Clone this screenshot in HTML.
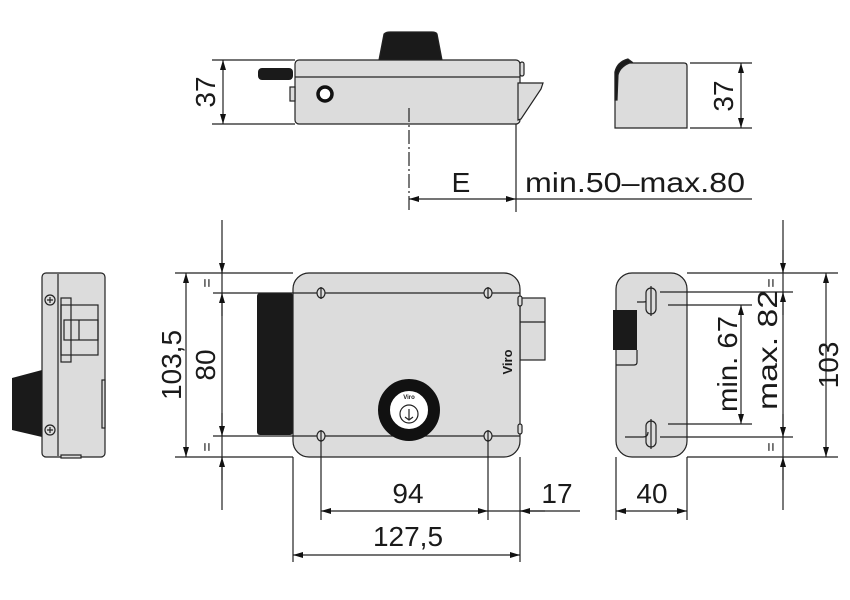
<!DOCTYPE html>
<html><head><meta charset="utf-8"><style>
html,body{margin:0;padding:0;background:#fff;}
svg{display:block;}
text{font-family:"Liberation Sans",sans-serif;fill:#1a1a1a;}
</style></head><body>
<svg width="850" height="600" viewBox="0 0 850 600" xmlns="http://www.w3.org/2000/svg">
<defs>
<marker id="a" viewBox="0 0 10 6" refX="10" refY="3" markerWidth="14" markerHeight="6" markerUnits="userSpaceOnUse" orient="auto-start-reverse"><path d="M0,0 L10,3 L0,6 z" fill="#111"/></marker>
</defs>
<g stroke="#222" stroke-width="1.2" fill="none">

<!-- TOP VIEW -->
<path d="M379,60 L384,34 Q386,32 390,32 L432,32 Q436,32 437,34 L442,60 Z" fill="#1a1a1a"/>
<rect x="258" y="68" width="35" height="12" rx="4" fill="#1a1a1a" stroke="none"/>
<rect x="295" y="60" width="225" height="64" rx="4" fill="#dcdcdc"/>
<line x1="295" y1="77" x2="520" y2="77"/>
<rect x="290" y="87" width="5" height="14" fill="#dcdcdc"/>
<rect x="520" y="62" width="4" height="14" rx="2" fill="#dcdcdc"/>
<path d="M518,83 L543,83 L541,89 L521,119 L518,120 Z" fill="#dcdcdc"/>
<circle cx="325" cy="94" r="7" stroke="#111" stroke-width="3.5" fill="#fff"/>
<line x1="212" y1="60" x2="295" y2="60"/>
<line x1="212" y1="124" x2="295" y2="124"/>
<line x1="223" y1="60" x2="223" y2="124" marker-start="url(#a)" marker-end="url(#a)"/>
<line x1="409" y1="108" x2="409" y2="212" stroke-dasharray="14,3,2,3"/>
<line x1="516" y1="124" x2="516" y2="212"/>
<line x1="409" y1="199" x2="516" y2="199" marker-start="url(#a)" marker-end="url(#a)"/>
<line x1="516" y1="199" x2="752" y2="199"/>

<!-- TOP RIGHT VIEW -->
<path d="M615,128 L615,72 Q618,63 628,63 L684,63 Q687,63 687,66 L687,128 Z" fill="#dcdcdc"/>
<path d="M615,100 L615,72 Q617,62 628,59 L632,62 Q620,66 618,75 L617,100 Z" fill="#1a1a1a"/>
<line x1="690" y1="63" x2="752" y2="63"/>
<line x1="690" y1="128" x2="752" y2="128"/>
<line x1="741" y1="63" x2="741" y2="128" marker-start="url(#a)" marker-end="url(#a)"/>

<!-- LEFT SIDE VIEW -->
<path d="M12,378 L42,370 L42,437 L12,430 Z" fill="#1a1a1a" stroke="none"/>
<rect x="42" y="273" width="63" height="184" rx="4" fill="#dcdcdc"/>
<line x1="58" y1="274" x2="58" y2="456"/>
<rect x="61" y="298" width="10" height="64" fill="#dcdcdc"/>
<rect x="61" y="305" width="37" height="50"/>
<rect x="64" y="320" width="34" height="20"/>
<line x1="79" y1="320" x2="79" y2="340"/>
<rect x="102" y="380" width="3" height="48" fill="#dcdcdc"/>
<rect x="61" y="455" width="20" height="3" fill="#dcdcdc"/>
<circle cx="50" cy="300" r="5" fill="#dcdcdc"/><path d="M47,300 h6 M50,297 v6"/>
<circle cx="50" cy="430" r="5" fill="#dcdcdc"/><path d="M47,430 h6 M50,427 v6"/>

<!-- FRONT VIEW -->
<rect x="257" y="293" width="36" height="142" rx="3" fill="#1a1a1a" stroke="none"/>
<rect x="520" y="298" width="25" height="62" fill="#dcdcdc"/>
<line x1="520" y1="322" x2="545" y2="322"/>
<rect x="293" y="273" width="227" height="184" rx="16" fill="#dcdcdc"/>
<rect x="518" y="296" width="4" height="10" rx="2" fill="#dcdcdc"/>
<rect x="518" y="424" width="4" height="10" rx="2" fill="#dcdcdc"/>
<line x1="213" y1="293" x2="520" y2="293"/>
<line x1="213" y1="436" x2="520" y2="436"/>
<line x1="175" y1="273" x2="293" y2="273"/>
<line x1="175" y1="457" x2="293" y2="457"/>
<g fill="#dcdcdc">
<ellipse cx="321" cy="293" rx="4" ry="5"/><ellipse cx="488" cy="293" rx="4" ry="5"/>
<ellipse cx="321" cy="436" rx="4" ry="5"/><ellipse cx="488" cy="436" rx="4" ry="5"/>
</g>
<path d="M321,287 v12 M488,287 v12 M321,430 v12 M488,430 v12"/>
<circle cx="409" cy="410" r="25" stroke="#111" stroke-width="12" fill="#fff"/>
<circle cx="409" cy="414" r="9" fill="#fff"/>
<path d="M409,409 v10 M405,417 l4,3 l4,-3"/>
<line x1="186" y1="273" x2="186" y2="457" marker-start="url(#a)" marker-end="url(#a)"/>
<line x1="222" y1="220" x2="222" y2="510"/>
<line x1="222" y1="250" x2="222" y2="273" marker-end="url(#a)"/>
<line x1="222" y1="316" x2="222" y2="293" marker-end="url(#a)"/>
<line x1="222" y1="413" x2="222" y2="436" marker-end="url(#a)"/>
<line x1="222" y1="480" x2="222" y2="457" marker-end="url(#a)"/>
<line x1="293" y1="457" x2="293" y2="562"/>
<line x1="520" y1="457" x2="520" y2="562"/>
<line x1="321" y1="440" x2="321" y2="520"/>
<line x1="488" y1="440" x2="488" y2="520"/>
<line x1="321" y1="511" x2="488" y2="511" marker-start="url(#a)" marker-end="url(#a)"/>
<line x1="488" y1="511" x2="580" y2="511"/>
<line x1="545" y1="511" x2="520" y2="511" marker-end="url(#a)"/>
<line x1="293" y1="555" x2="520" y2="555" marker-start="url(#a)" marker-end="url(#a)"/>

<!-- RIGHT SIDE VIEW -->
<rect x="616" y="273" width="71" height="184" rx="16" fill="#dcdcdc"/>
<rect x="613" y="310" width="24" height="40" fill="#1a1a1a" stroke="none"/>
<path d="M637,350 v12 q0,3 -3,3 h-18"/>
<path d="M637,302 h6 q8,0 8,-8"/>
<rect x="646" y="288" width="10" height="26" rx="5" fill="#dcdcdc"/>
<rect x="646" y="421" width="10" height="26" rx="5" fill="#dcdcdc"/>
<path d="M651,286 v30 M651,419 v30"/>
<path d="M625,437 h18 q5,0 5,-5"/>
<line x1="687" y1="273" x2="838" y2="273"/>
<line x1="687" y1="457" x2="838" y2="457"/>
<line x1="660" y1="292" x2="793" y2="292"/>
<line x1="668" y1="305" x2="752" y2="305"/>
<line x1="668" y1="424" x2="752" y2="424"/>
<line x1="660" y1="437" x2="793" y2="437"/>
<line x1="826" y1="273" x2="826" y2="457" marker-start="url(#a)" marker-end="url(#a)"/>
<line x1="741" y1="305" x2="741" y2="424" marker-start="url(#a)" marker-end="url(#a)"/>
<line x1="783" y1="220" x2="783" y2="510"/>
<line x1="783" y1="250" x2="783" y2="273" marker-end="url(#a)"/>
<line x1="783" y1="315" x2="783" y2="292" marker-end="url(#a)"/>
<line x1="783" y1="414" x2="783" y2="437" marker-end="url(#a)"/>
<line x1="783" y1="480" x2="783" y2="457" marker-end="url(#a)"/>
<line x1="616" y1="457" x2="616" y2="520"/>
<line x1="687" y1="457" x2="687" y2="520"/>
<line x1="616" y1="511" x2="687" y2="511" marker-start="url(#a)" marker-end="url(#a)"/>
</g>

<!-- TEXT -->
<g font-size="28">
<text transform="translate(215,92) rotate(-90)" text-anchor="middle">37</text>
<text transform="translate(733,96) rotate(-90)" text-anchor="middle">37</text>
<text x="461" y="192" text-anchor="middle">E</text>
<text x="525" y="192" textLength="220" lengthAdjust="spacingAndGlyphs">min.50–max.80</text>
<text transform="translate(181,365) rotate(-90)" text-anchor="middle">103,5</text>
<text transform="translate(215,365) rotate(-90)" text-anchor="middle">80</text>
<text x="408" y="503" text-anchor="middle">94</text>
<text x="557" y="503" text-anchor="middle">17</text>
<text x="408" y="546" text-anchor="middle">127,5</text>
<text x="652" y="503" text-anchor="middle">40</text>
<text transform="translate(838,365) rotate(-90)" text-anchor="middle">103</text>
<text transform="translate(777,350) rotate(-90)" text-anchor="middle" textLength="120" lengthAdjust="spacingAndGlyphs">max. 82</text>
<text transform="translate(737,364) rotate(-90)" text-anchor="middle" textLength="96" lengthAdjust="spacingAndGlyphs">min. 67</text>
</g>
<g font-size="16">
<text transform="translate(212,283) rotate(-90)" text-anchor="middle">=</text>
<text transform="translate(212,447) rotate(-90)" text-anchor="middle">=</text>
<text transform="translate(776,283) rotate(-90)" text-anchor="middle">=</text>
<text transform="translate(776,447) rotate(-90)" text-anchor="middle">=</text>
</g>
<text transform="translate(512,362) rotate(-90)" text-anchor="middle" font-size="13" font-weight="bold" fill="#333">Viro</text>
<text x="409" y="399" text-anchor="middle" font-size="6" font-weight="bold">Viro</text>
</svg>
</body></html>
